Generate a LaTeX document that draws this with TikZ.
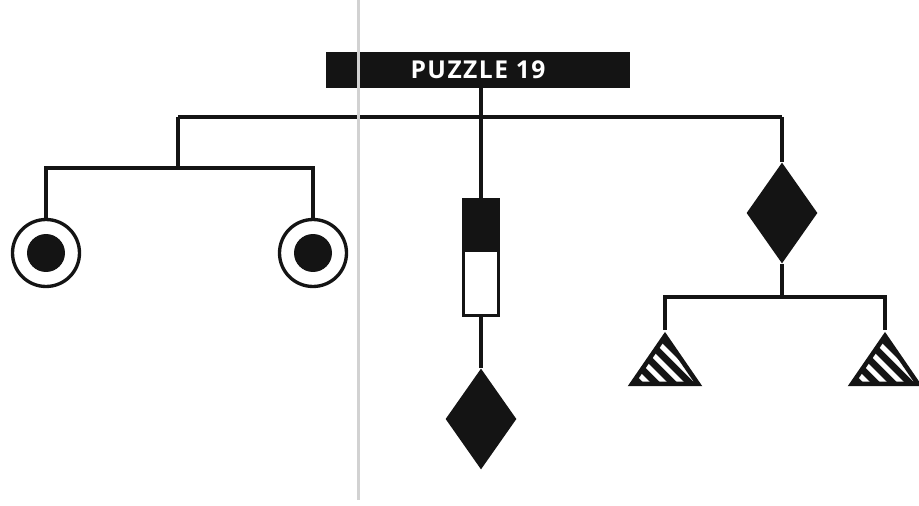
\documentclass[tikz,border=0pt]{standalone}
\usepackage{fontspec}
\usepackage{tikz}
\usetikzlibrary{shapes.geometric,calc}
\newfontfamily\titlefont[LetterSpace=6]{Open Sans}
\definecolor{ink}{HTML}{141414}
\definecolor{fold}{HTML}{D2D2D2}
\tikzset{
  hangline/.style={line width=1.9pt, color=ink},
  titlebar/.style={
    rectangle, fill=ink, text=white, inner sep=0pt,
    minimum width=6.1cm, minimum height=0.72cm,
    font=\titlefont\bfseries\fontsize{14}{16}\selectfont
  },
  ringweight/.style={
    circle, draw=ink, fill=white, line width=1.9pt,
    minimum size=1.34cm, inner sep=0pt,
    path picture={\fill[ink] (path picture bounding box.center) circle (0.38cm);}
  },
  blockweight/.style={
    rectangle, draw=ink, fill=white, line width=1.9pt,
    minimum width=0.69cm, minimum height=2.31cm, inner sep=0pt,
    path picture={\fill[ink] (path picture bounding box.north west)
      rectangle ($(path picture bounding box.east)+(0,0.11cm)$);}
  },
  kiteweight/.style={
    diamond, fill=ink, inner sep=0pt,
    minimum width=1.42cm, minimum height=2.02cm
  },
  wedgeweight/.style={
    isosceles triangle, isosceles triangle stretches, shape border rotate=90,
    draw=ink, fill=ink, line width=2.6pt, inner sep=0pt,
    minimum width=1.32cm, minimum height=0.96cm, anchor=apex,
    path picture={\foreach \s in {-68,-51,...,68}
      \draw[white, line width=0.1cm, shift={(path picture bounding box.center)}]
        (\s-40,-40) -- (\s+40,40);}
  },
}

\begin{document}
\begin{tikzpicture}[x=0.02cm, y=-0.02cm]
  \useasboundingbox (0,0) rectangle (919,506);

  % Title
  \node[titlebar] (title) at (478,70) {PUZZLE 19};

  % Weights
  \node[ringweight] (ringL) at (46,253) {};
  \node[ringweight] (ringR) at (313,253) {};
  \node[blockweight] (block) at (481,257.5) {};
  \node[kiteweight] (kiteB) at (481,419) {};
  \node[kiteweight] (kiteA) at (782,213) {};
  \node[wedgeweight] (wedgeL) at (665,330) {};
  \node[wedgeweight] (wedgeR) at (885,330) {};

  % Bar joints
  \coordinate (topL) at (178,117);
  \coordinate (topR) at (782,117);
  \coordinate (armA) at (178,168);
  \coordinate (armB) at (782,297);

  % Strings and bars
  \draw[hangline] (block.north |- title.south) -- (block.north);
  \draw[hangline] (topL) -- (topR);
  \draw[hangline] (topL) -- (armA);
  \draw[hangline] (ringL.north) |- (armA) -| (ringR.north);
  \draw[hangline] (topR) -- (kiteA.north);
  \draw[hangline] (kiteA.south) -- (armB);
  \draw[hangline] (wedgeL.apex) |- (armB) -| (wedgeR.apex);
  \draw[hangline] (block.south) -- (kiteB.north);

  % Fold of the page
  \draw[fold, line width=0.06cm] (358,0) -- (358,500);
\end{tikzpicture}
\end{document}
